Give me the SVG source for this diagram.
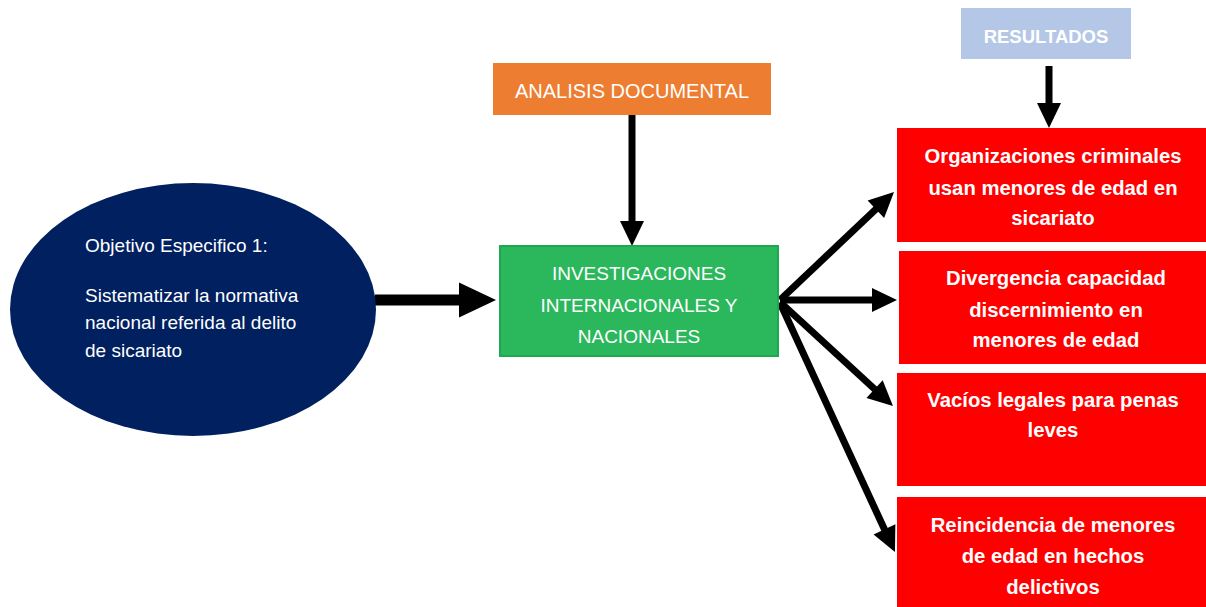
<svg xmlns="http://www.w3.org/2000/svg" width="1206" height="607" viewBox="0 0 1206 607">
<style>
  .t { font-family: "Liberation Sans", Arial, sans-serif; fill: #FFFFFF; }
  .c { text-anchor: middle; }
  .b { font-weight: bold; }
  .red { fill: #FF0000; }
  .conn { stroke: #000000; fill: none; }
  .r { font-size: 20.3px; }
  .o { font-size: 19px; }
</style>
<defs>
  <marker id="head" markerUnits="userSpaceOnUse" markerWidth="25" markerHeight="24" refX="1" refY="12" orient="auto" overflow="visible">
    <path d="M0,0 L25,12 L0,24 Z" fill="#000"/>
  </marker>
  <marker id="bighead" markerUnits="userSpaceOnUse" markerWidth="37" markerHeight="35" refX="1" refY="17.5" orient="auto" overflow="visible">
    <path d="M0,0 L37,17.5 L0,35 Z" fill="#000"/>
  </marker>
</defs>
<rect width="1206" height="607" fill="#FFFFFF"/>

<g id="connectors">
  <line class="conn" x1="375" y1="300" x2="460" y2="300" stroke-width="11" marker-end="url(#bighead)"/>
  <line class="conn" x1="632" y1="115" x2="632" y2="222" stroke-width="7" marker-end="url(#head)"/>
  <line class="conn" x1="1049" y1="66" x2="1049" y2="104" stroke-width="7" marker-end="url(#head)"/>
  <line class="conn" x1="780" y1="300" x2="876.6" y2="208.5" stroke-width="7" marker-end="url(#head)"/>
  <line class="conn" x1="780" y1="300" x2="873" y2="300" stroke-width="7" marker-end="url(#head)"/>
  <line class="conn" x1="780" y1="302" x2="875.3" y2="389.8" stroke-width="7" marker-end="url(#head)"/>
  <line class="conn" x1="781" y1="305" x2="884.9" y2="530.3" stroke-width="7" marker-end="url(#head)"/>
</g>

<g id="objetivo">
  <ellipse cx="193" cy="309.5" rx="183" ry="126.5" fill="#002060"/>
  <text class="t o" x="85" y="252">Objetivo Especifico 1:</text>
  <text class="t o" x="85" y="302">Sistematizar la normativa</text>
  <text class="t o" x="85" y="329">nacional referida al delito</text>
  <text class="t o" x="85" y="357">de sicariato</text>
</g>

<g id="analisis">
  <rect x="493" y="63" width="278" height="52" fill="#ED7D31"/>
  <text class="t c" font-size="20" x="632" y="98">ANALISIS DOCUMENTAL</text>
</g>

<g id="investigaciones">
  <rect x="500" y="246" width="278" height="110" fill="#2BB75C" stroke="#1FA84F" stroke-width="2"/>
  <text class="t c" font-size="19" x="639" y="280">INVESTIGACIONES</text>
  <text class="t c" font-size="19" x="639" y="312">INTERNACIONALES Y</text>
  <text class="t c" font-size="19" x="639" y="343">NACIONALES</text>
</g>

<g id="resultados">
  <rect x="961" y="8" width="170" height="51" fill="#B4C7E7"/>
  <text class="t c b" font-size="18.5" x="1046" y="43">RESULTADOS</text>
</g>

<g id="res1">
  <rect class="red" x="897" y="128" width="309" height="114"/>
  <text class="t c b r" x="1053" y="163">Organizaciones criminales</text>
  <text class="t c b r" x="1053" y="195">usan menores de edad en</text>
  <text class="t c b r" x="1053" y="225">sicariato</text>
</g>

<g id="res2">
  <rect class="red" x="899" y="251" width="307" height="113"/>
  <text class="t c b r" x="1056" y="285">Divergencia capacidad</text>
  <text class="t c b r" x="1056" y="317">discernimiento en</text>
  <text class="t c b r" x="1056" y="347">menores de edad</text>
</g>

<g id="res3">
  <rect class="red" x="897" y="373" width="309" height="113"/>
  <text class="t c b r" x="1053" y="407">Vacíos legales para penas</text>
  <text class="t c b r" x="1053" y="437">leves</text>
</g>

<g id="res4">
  <rect class="red" x="897" y="497" width="309" height="110"/>
  <text class="t c b r" x="1053" y="532">Reincidencia de menores</text>
  <text class="t c b r" x="1053" y="563">de edad en hechos</text>
  <text class="t c b r" x="1053" y="594">delictivos</text>
</g>
</svg>
